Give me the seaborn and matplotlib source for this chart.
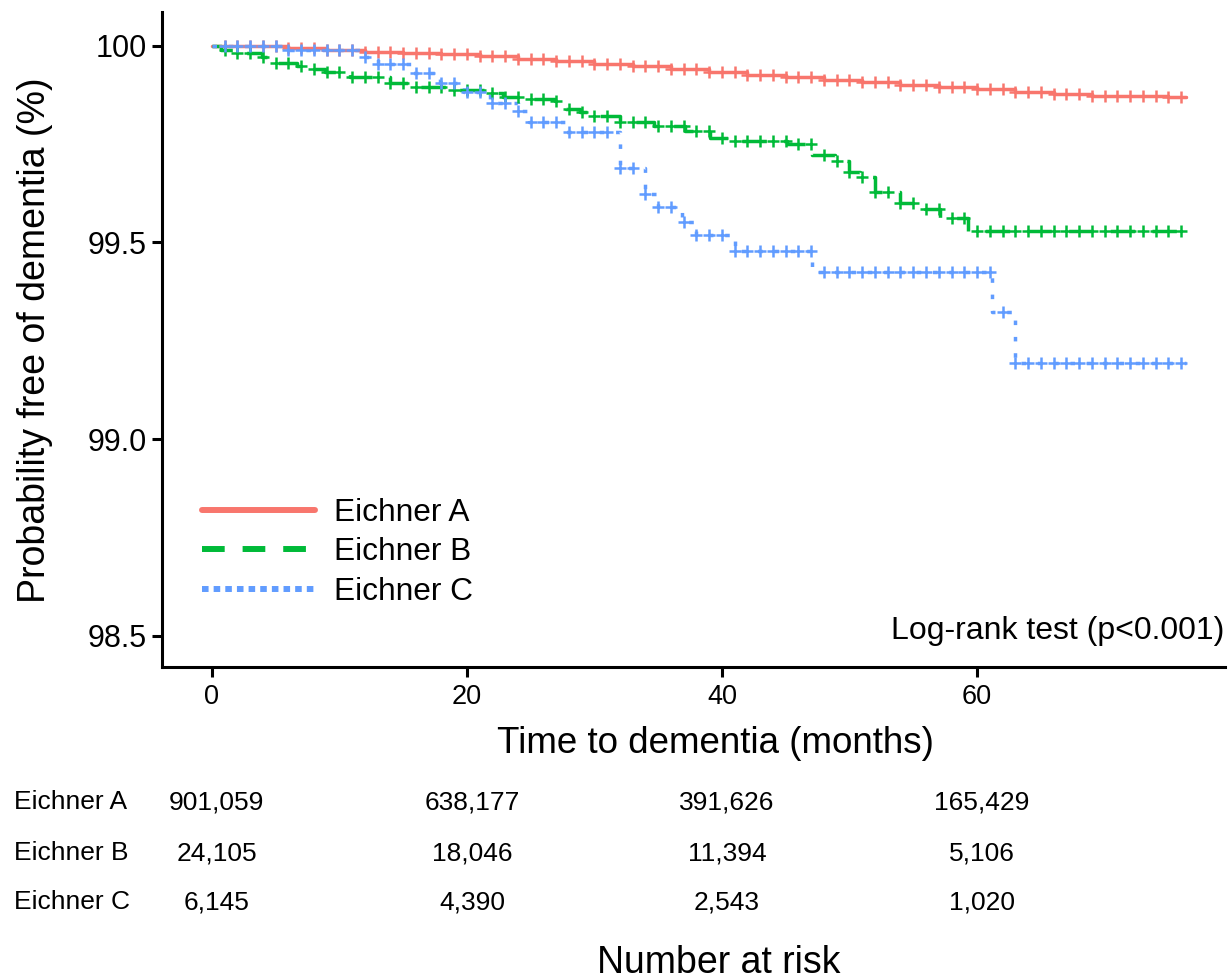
import numpy as np
import pandas as pd
import matplotlib
matplotlib.use("Agg")

import matplotlib.pyplot as plt
import matplotlib.transforms as mtransforms
from matplotlib.lines import Line2D
import seaborn as sns


# -------------------------------
# Data
# -------------------------------

groups = ["Eichner A", "Eichner B", "Eichner C"]

# step times (months) and survival (%) after each step
a_time = [0, 3, 6, 9, 12, 15, 18, 21, 24, 27, 30, 33, 36, 39, 42, 45,
          48, 51, 54, 57, 60, 63, 66, 69, 72, 75]
a_surv = [100.0, 99.998, 99.994, 99.990, 99.985, 99.981, 99.978, 99.973,
          99.967, 99.961, 99.954, 99.948, 99.941, 99.933, 99.926, 99.919,
          99.913, 99.907, 99.901, 99.896, 99.890, 99.882, 99.876, 99.873,
          99.871, 99.870]

b_time = [0, 0.7, 1.9, 3.9, 4.9, 6.7, 7.8, 8.9, 10.8, 14.0, 15.5, 15.9,
          18.8, 21.8, 22.8, 24.9, 26.9, 27.8, 28.9, 29.9, 32.0, 34.7, 37.1,
          39.1, 41.0, 45.1, 47.1, 48.9, 50.0, 50.8, 52.0, 54.0, 55.9, 57.1,
          59.3]
b_surv = [100.0, 99.990, 99.982, 99.972, 99.957, 99.947, 99.940, 99.934,
          99.920, 99.906, 99.902, 99.896, 99.888, 99.880, 99.870, 99.865,
          99.858, 99.838, 99.832, 99.820, 99.805, 99.795, 99.782, 99.766,
          99.757, 99.750, 99.723, 99.706, 99.678, 99.667, 99.627, 99.600,
          99.586, 99.563, 99.528]

c_time = [0, 6.0, 12.0, 13.0, 15.8, 17.9, 19.8, 21.8, 24.0, 24.9, 27.8,
          32.0, 34.0, 35.0, 36.9, 38.0, 41.0, 47.1, 61.2, 63.0]
c_surv = [100.0, 99.990, 99.970, 99.952, 99.930, 99.904, 99.883, 99.855,
          99.835, 99.807, 99.780, 99.688, 99.624, 99.590, 99.553, 99.518,
          99.477, 99.424, 99.322, 99.193]

follow_up_end = 76.4
# censoring ticks appear about once a month on every curve
censor_months = list(range(1, 77))

risk_months = [0, 20, 40, 60]
risk_a = ["901,059", "638,177", "391,626", "165,429"]
risk_b = ["24,105", "18,046", "11,394", "5,106"]
risk_c = ["6,145", "4,390", "2,543", "1,020"]

colors = ["#F8766D", "#00BA38", "#619CFF"]
dashes = [(None, None), (0, (7, 5)), (0, (1.3, 3.4))]
legend_dashes = [(None, None), (0, (3.8, 3.0)), (0, (1.1, 0.85))]

curves = [(a_time, a_surv), (b_time, b_surv), (c_time, c_surv)]
risk_rows = [risk_a, risk_b, risk_c]


sns.set_style("ticks")
plt.rcParams["font.family"] = ["Liberation Sans", "DejaVu Sans"]
plt.rcParams["text.color"] = "black"
plt.rcParams["xtick.color"] = "black"
plt.rcParams["ytick.color"] = "black"

fig = plt.figure(figsize=(12.28, 9.8), dpi=100)
ax = fig.add_axes([0.132, 0.319, 0.8656, 0.669])

# -------------------------------
# Kaplan-Meier curves
# -------------------------------

for (t, s), col, ls in zip(curves, colors, dashes):
    df = pd.DataFrame({
        "time": list(t) + [follow_up_end],
        "surv": list(s) + [s[-1]],
    })
    line_kw = {} if ls[0] is None else {"linestyle": ls}
    sns.lineplot(
        data=df, x="time", y="surv", ax=ax,
        color=col, linewidth=2.5, drawstyle="steps-post",
        estimator=None, sort=False, **line_kw
    )

    tt = np.array(t)
    ss = np.array(s)
    cm = np.array([m for m in censor_months if m <= follow_up_end])
    idx = np.searchsorted(tt, cm, side="right") - 1
    cens = pd.DataFrame({"time": cm, "surv": ss[idx]})
    sns.scatterplot(
        data=cens, x="time", y="surv", ax=ax,
        marker="+", s=80, color=col, linewidth=1.8, zorder=3
    )

ax.set_xlim(-3.9, 79.45)
ax.set_ylim(98.42, 100.086)
ax.set_xticks([0, 20, 40, 60])
ax.set_yticks([98.5, 99.0, 99.5, 100.0])
ax.set_yticklabels(["98.5", "99.0", "99.5", "100"])
ax.tick_params(axis="y", labelsize=22, width=2.2, length=7, pad=4,
               colors="black")
ax.tick_params(axis="x", labelsize=19.5, width=2.2, length=7, pad=5,
               colors="black")
ax.set_xlabel("")
ax.set_ylabel("")

sns.despine(ax=ax)
for side in ["left", "bottom"]:
    ax.spines[side].set_linewidth(2.2)
    ax.spines[side].set_color("black")

# legend
handles = []
for col, ls in zip(colors, legend_dashes):
    kw = {} if ls[0] is None else {"linestyle": ls}
    handles.append(Line2D([0], [0], color=col, linewidth=4.3, **kw))

ax.legend(
    handles, groups,
    loc="upper left", bbox_to_anchor=(0.026, 0.278),
    frameon=False, fontsize=22.8,
    handlelength=3.55, handletextpad=0.62, labelspacing=0.3,
    borderaxespad=0
)

ax.text(0.999, 0.055, "Log-rank test (p<0.001)", transform=ax.transAxes,
        ha="right", va="center", fontsize=23)

# axis titles
fig.text(35 / 1228, 1 - 340 / 980, "Probability free of dementia (%)",
         rotation=90, ha="center", va="center", fontsize=27)
fig.text(715 / 1228, 1 - 753 / 980, "Time to dementia (months)",
         ha="center", va="baseline", fontsize=26.5)

# -------------------------------
# Number at risk table
# -------------------------------

trans = mtransforms.blended_transform_factory(ax.transData, fig.transFigure)
row_y = [802, 853, 902]

for name, vals, y in zip(groups, risk_rows, row_y):
    fy = 1 - y / 980
    fig.text(14 / 1228, fy, name, ha="left", va="center", fontsize=19)
    for m, v in zip(risk_months, vals):
        fig.text(m + 0.4, fy, v, transform=trans,
                 ha="center", va="center", fontsize=19)

fig.text(719 / 1228, 1 - 963 / 980, "Number at risk",
         ha="center", va="center", fontsize=27)

fig.savefig("out.png", dpi=100)
plt.close(fig)
